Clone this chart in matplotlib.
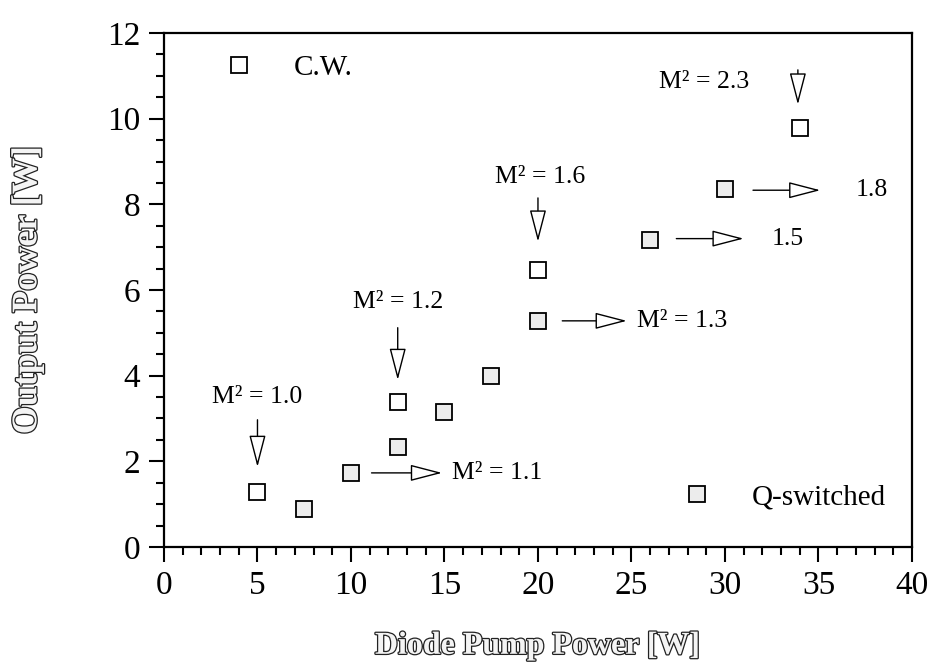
import numpy as np
import matplotlib.pyplot as plt
import matplotlib.patheffects as pe
from matplotlib.lines import Line2D
from matplotlib.ticker import MultipleLocator

plt.rcParams['font.family'] = ['Liberation Serif', 'DejaVu Serif']

# C.W. data
cw_pump = [5.0, 12.5, 20.0, 34.0]
cw_out = [1.28, 3.39, 6.47, 9.79]

# Q-switched data
qs_pump = [7.5, 10.0, 12.5, 15.0, 17.5, 20.0, 26.0, 30.0]
qs_out = [0.88, 1.73, 2.34, 3.16, 4.0, 5.28, 7.17, 8.35]

# M^2 labels with vertical arrows (x, arrow top, arrow tip, text x, text y)
down_labels = ['M² = 1.0', 'M² = 1.2', 'M² = 1.6', 'M² = 2.3']
down_x = [5.0, 12.5, 20.0, 33.9]
down_from = [2.97, 5.12, 8.15, 11.14]
down_to = [1.87, 3.90, 7.13, 10.33]
down_tx = [5.0, 12.5, 20.1, 28.9]
down_ty = [3.5, 5.72, 8.64, 10.86]

# M^2 labels with horizontal arrows (y, arrow start, arrow tip, text x)
right_labels = ['M² = 1.1', 'M² = 1.3', '1.5', '1.8']
right_y = [1.73, 5.28, 7.2, 8.33]
right_from = [11.1, 21.3, 27.4, 31.5]
right_to = [14.87, 24.75, 31.0, 35.1]
right_tx = [15.4, 25.3, 32.5, 37.0]

fig = plt.figure(figsize=(9.28, 6.70), dpi=100)
ax = fig.add_axes([0.1767, 0.1836, 0.806, 0.7671])

ms = 11
qs_fill = '#ececec'
ax.plot(cw_pump, cw_out, ls='none', marker='s', ms=ms, mfc='white',
        mec='black', mew=1.3, zorder=3)
ax.plot(qs_pump, qs_out, ls='none', marker='s', ms=ms, mfc=qs_fill,
        mec='black', mew=1.3, zorder=3)

arrow = dict(arrowstyle='-|>,head_length=1.0,head_width=0.26', fc='white',
             ec='black', lw=1.0, mutation_scale=20, shrinkA=0, shrinkB=0)
for lab, x, y0, y1, tx, ty in zip(down_labels, down_x, down_from, down_to,
                                  down_tx, down_ty):
    ax.annotate('', xy=(x, y1), xytext=(x, y0), arrowprops=arrow)
    ax.text(tx, ty, lab, ha='center', va='center', fontsize=18.5)

for lab, y, x0, x1, tx in zip(right_labels, right_y, right_from, right_to,
                              right_tx):
    ax.annotate('', xy=(x1, y), xytext=(x0, y), arrowprops=arrow)
    ax.text(tx, y, lab, ha='left', va='center', fontsize=18.5)

# two separate legend entries
h_cw = Line2D([], [], ls='none', marker='s', ms=ms, mfc='white',
              mec='black', mew=1.3)
h_qs = Line2D([], [], ls='none', marker='s', ms=ms, mfc=qs_fill,
              mec='black', mew=1.3)
leg1 = ax.legend([h_cw], ['C.W.'], loc='center left',
                 bbox_to_anchor=(0.0615, 0.932), frameon=False, fontsize=21,
                 borderpad=0, borderaxespad=0, handlelength=2,
                 handletextpad=0.86)
ax.add_artist(leg1)
ax.legend([h_qs], ['Q-switched'], loc='center left',
          bbox_to_anchor=(0.674, 0.097), frameon=False, fontsize=21,
          borderpad=0, borderaxespad=0, handlelength=2, handletextpad=0.86)

ax.set_xlim(0, 40)
ax.set_ylim(0, 12)
ax.xaxis.set_major_locator(MultipleLocator(5))
ax.xaxis.set_minor_locator(MultipleLocator(1))
ax.yaxis.set_major_locator(MultipleLocator(2))
ax.yaxis.set_minor_locator(MultipleLocator(0.5))
ax.tick_params(which='both', direction='out', top=False, right=False,
               width=1.5, labelsize=24)
ax.tick_params(which='major', length=11, pad=6)
ax.tick_params(which='minor', length=5.5)
for s in ax.spines.values():
    s.set_linewidth(1.6)

outline = [pe.withStroke(linewidth=1.8, foreground='#222222')]
ax.set_xlabel('Diode Pump Power [W]', fontsize=23, fontweight='bold',
              color='#f4f4f4', path_effects=outline)
ax.set_ylabel('Output Power [W]', fontsize=26, fontweight='bold',
              color='#f4f4f4', path_effects=outline)
ax.xaxis.set_label_coords(0.5, -0.165)
ax.yaxis.set_label_coords(-0.16, 0.5)

fig.savefig('out.png', dpi=100)
